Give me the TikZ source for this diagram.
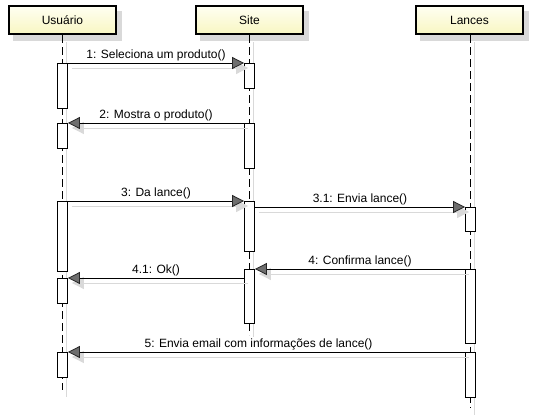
\documentclass[tikz,border=0pt]{standalone}
\usepackage{fontspec}
\setmainfont{Liberation Sans}
\usetikzlibrary{arrows.meta, backgrounds}
\definecolor{headLight}{HTML}{FFFFF2}
\definecolor{headDark}{HTML}{F8F6C2}
\definecolor{shadowGray}{HTML}{D9D9D9}
\definecolor{tipGray}{HTML}{6E6E6E}

\tikzset{
    header/.style={draw, line width=2pt, minimum width=107pt, minimum height=28pt,
        top color=headLight, bottom color=headDark, font=\fontsize{12}{14}\selectfont},
    headshadow/.style={fill=shadowGray},
    act/.style={draw, fill=white, line width=0.8pt, minimum width=10pt, inner sep=0pt, anchor=north},
    lifeline/.style={line width=0.8pt, dash pattern=on 8pt off 4pt},
    lifeshadow/.style={draw=shadowGray, line width=0.8pt},
    msg/.style={line width=0.8pt, -{Triangle[length=12pt, width=12pt, fill=tipGray, color=black!85]}},
    msgshadow/.style={draw=shadowGray, line width=0.8pt, -{Triangle[length=12pt, width=12pt, fill=shadowGray]}},
    lbl/.style={above, inner sep=1.5pt, font=\fontsize{12}{14}\selectfont}
}

\begin{document}
\begin{tikzpicture}[x=1pt, y=-1pt]
    \useasboundingbox (0, 0) rectangle (539, 415);

    % objects
    \node[header] (usr) at (62.5, 20) {Usuário};
    \node[header] (site) at (249.5, 20) {Site};
    \node[header] (lan) at (469.5, 20) {Lances};
    \begin{scope}[on background layer]
        \foreach \obj in {usr, site, lan}
            \fill[headshadow] ([shift={(5, 6)}]\obj.north west) rectangle ([shift={(5, 6)}]\obj.south east);
    \end{scope}

    \coordinate (usrEnd) at (62.5, 390);
    \coordinate (siteEnd) at (249.5, 335);
    \coordinate (lanEnd) at (470.5, 408);

    % lifelines
    \draw[lifeshadow] ([shift={(4, 7)}]usr.south) -- ([shift={(4, 7)}]usrEnd);
    \draw[lifeshadow] ([shift={(4, 7)}]site.south) -- ([shift={(4, 2)}]siteEnd);
    \draw[lifeshadow] ([shift={(5, 7)}]lan.south) -- ([shift={(4, 7)}]lanEnd);
    \draw[lifeline] (usr) -- (usrEnd);
    \draw[lifeline] (site) -- (siteEnd);
    \draw[lifeline] (lan.south -| lanEnd) -- (lanEnd);

    % activations
    \node[act, minimum height=45pt] (u1) at (62.5, 63) {};
    \node[act, minimum height=25pt] (u2) at (62.5, 123) {};
    \node[act, minimum height=70pt] (u3) at (62.5, 201) {};
    \node[act, minimum height=25pt] (u4) at (62.5, 278) {};
    \node[act, minimum height=25pt] (u5) at (62.5, 352) {};
    \node[act, minimum height=25pt] (s1) at (249.5, 63) {};
    \node[act, minimum height=45pt] (s2) at (249.5, 123) {};
    \node[act, minimum height=50pt] (s3) at (249.5, 201) {};
    \node[act, minimum height=54pt] (s4) at (249.5, 269) {};
    \node[act, minimum height=24pt] (l1) at (470.5, 207) {};
    \node[act, minimum height=74pt] (l2) at (470.5, 269) {};
    \node[act, minimum height=45pt] (l3) at (470.5, 352) {};

    % messages
    \draw[msgshadow] ([shift={(4, 5)}]u1.north east) -- ([shift={(4, 5)}]s1.north west);
    \draw[msg] (u1.north east) -- (s1.north west) node[lbl, midway] {1: Seleciona um produto()};

    \draw[msgshadow] ([shift={(4, 5)}]s2.north west) -- ([shift={(4, 5)}]u2.north east);
    \draw[msg] (s2.north west) -- (u2.north east) node[lbl, midway] {2: Mostra o produto()};

    \draw[msgshadow] ([shift={(4, 5)}]u3.north east) -- ([shift={(4, 5)}]s3.north west);
    \draw[msg] (u3.north east) -- (s3.north west) node[lbl, midway] {3: Da lance()};

    \draw[msgshadow] ([shift={(4, 5)}]s3.east |- l1.north) -- ([shift={(4, 5)}]l1.north west);
    \draw[msg] (s3.east |- l1.north) -- (l1.north west) node[lbl, midway] {3.1: Envia lance()};

    \draw[msgshadow] ([shift={(4, 5)}]l2.north west) -- ([shift={(4, 5)}]s4.north east);
    \draw[msg] (l2.north west) -- (s4.north east) node[lbl, midway] {4: Confirma lance()};

    \draw[msgshadow] ([shift={(4, 5)}]s4.west |- u4.north) -- ([shift={(4, 5)}]u4.north east);
    \draw[msg] (s4.west |- u4.north) -- (u4.north east) node[lbl, midway] {4.1: Ok()};

    \draw[msgshadow] ([shift={(4, 5)}]l3.north west) -- ([shift={(4, 5)}]u5.north east);
    \draw[msg] (l3.north west) -- (u5.north east) node[lbl, pos=0.52] {5: Envia email com informações de lance()};
\end{tikzpicture}
\end{document}
